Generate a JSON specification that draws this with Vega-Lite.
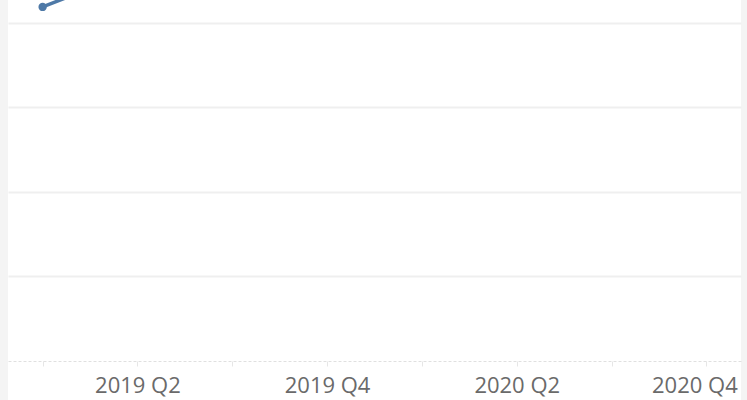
{
  "$schema": "https://vega.github.io/schema/vega-lite/v6.json",
  "width": 733,
  "height": 400,
  "autosize": {"type": "none"},
  "padding": {"left": 8, "right": 6, "top": 0, "bottom": 0},
  "background": "#f4f4f4",
  "view": {"fill": "white", "stroke": null},
  "data": {
    "values": [
      {"quarter": "2019 Q1", "value": 419},
      {"quarter": "2019 Q2", "value": 463},
      {"quarter": "2019 Q3", "value": 505},
      {"quarter": "2019 Q4", "value": 540},
      {"quarter": "2020 Q1", "value": 575},
      {"quarter": "2020 Q2", "value": 610},
      {"quarter": "2020 Q3", "value": 650},
      {"quarter": "2020 Q4", "value": 690}
    ]
  },
  "encoding": {
    "x": {
      "field": "quarter",
      "type": "ordinal",
      "sort": null,
      "scale": {"type": "point", "padding": 0.365},
      "axis": {
        "title": null,
        "orient": "bottom",
        "offset": -39,
        "labelAngle": 0,
        "labelExpr": "indexof(datum.label,'Q2')>=0 || indexof(datum.label,'Q4')>=0 ? datum.label : ''",
        "labelFont": "Open Sans",
        "labelFontSize": 22,
        "labelColor": "#6a6a6a",
        "labelPadding": 9,
        "labelOffset": {"condition": {"test": "datum.label == '2020 Q4'", "value": -12}, "value": 0},
        "tickColor": "#e6e6e6",
        "tickSize": 5,
        "domainColor": "#e0e0e0",
        "domainDash": [3, 2],
        "domainWidth": 1,
        "grid": false
      }
    },
    "y": {
      "field": "value",
      "type": "quantitative",
      "scale": {"domain": [-46.2, 427.2], "nice": false, "zero": false},
      "axis": {
        "title": null,
        "labels": false,
        "ticks": false,
        "domain": false,
        "values": [100, 200, 300, 400],
        "grid": true,
        "gridColor": "#efefef",
        "gridWidth": 2
      }
    }
  },
  "layer": [
    {"mark": {"type": "line", "color": "#4e79a7", "strokeWidth": 3.5, "clip": true}},
    {"mark": {"type": "circle", "color": "#4e79a7", "size": 70, "opacity": 1, "clip": true}}
  ]
}
